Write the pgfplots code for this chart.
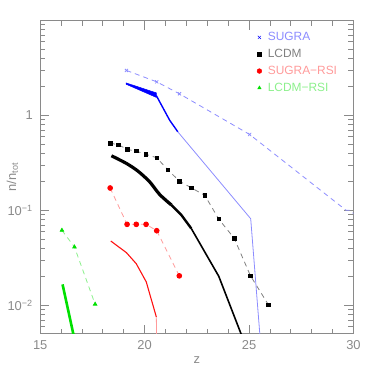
\documentclass[border=0pt]{standalone}
\usepackage{fontspec}
\setmainfont{Liberation Sans}
\usepackage{pgfplots}
\pgfplotsset{compat=1.18}
\definecolor{axgray}{HTML}{8A8A8A}
\definecolor{sugra}{HTML}{0000FF}
\definecolor{sugralt}{HTML}{8C8CFF}
\definecolor{lcdmlt}{HTML}{808080}
\definecolor{rsired}{HTML}{FF1010}
\definecolor{rsilt}{HTML}{FF9A9A}
\definecolor{lgreen}{HTML}{00E000}
\definecolor{lgreenlt}{HTML}{8CF08C}

\begin{document}
\begin{tikzpicture}
\useasboundingbox (-40.3bp,-40.3bp) rectangle (334bp,334.6bp);
\begin{axis}[
  at={(0,0)}, anchor=south west,
  width=314bp, height=314bp, scale only axis,
  xmin=15, xmax=30,
  ymode=log, ymin=0.005, ymax=10,
  xtick={15,20,25,30}, minor x tick num=4,
  ytick={0.01,0.1,1},
  yticklabels={10\textsuperscript{−2},10\textsuperscript{−1},1},
  minor ytick={0.006,0.007,0.008,0.009,0.02,0.03,0.04,0.05,0.06,0.07,0.08,0.09,
               0.2,0.3,0.4,0.5,0.6,0.7,0.8,0.9,2,3,4,5,6,7,8,9},
  tick align=inside,
  major tick length=9bp, minor tick length=5bp,
  axis line style={axgray, line width=0.8bp},
  every tick/.style={axgray, line width=0.8bp},
  tick label style={font=\fontsize{13}{13}\selectfont, text=axgray},
  /pgf/number format/assume math mode=true,
  xticklabel style={yshift=-3bp},
  yticklabel style={xshift=-4bp},
  xlabel={z}, ylabel={n/n\textsubscript{tot}},
  label style={font=\fontsize{13}{13}\selectfont, text=axgray},
  xlabel style={at={(axis description cs:0.5,-0.084)}, anchor=center},
  ylabel style={at={(axis description cs:-0.089,0.5)}, anchor=center},
  legend style={at={(axis description cs:0.682,0.98)}, anchor=north west,
    draw=none, fill=none,
    font=\fontsize{12}{12}\selectfont,
    nodes={inner xsep=6bp, inner ysep=3.5bp},
    /tikz/every even column/.append style={column sep=0pt}},
  legend cell align=left,
]
% legend markers
\addlegendimage{only marks, mark=x, mark size=2.2bp, sugra}
\addlegendentry{\textcolor{sugralt}{SUGRA}\strut}
\addlegendimage{only marks, mark=square*, mark size=1.8bp, black}
\addlegendentry{\textcolor{lcdmlt}{LCDM}\strut}
\addlegendimage{only marks, mark=*, mark size=2.4bp, red}
\addlegendentry{\textcolor{rsilt}{SUGRA−RSI}\strut}
\addlegendimage{only marks, mark=triangle*, mark size=2bp, lgreen}
\addlegendentry{\textcolor{lgreenlt}{LCDM−RSI}\strut}

% SUGRA dashed with marks
\addplot[forget plot, sugralt, dashed, dash pattern=on 5bp off 4bp, line width=0.8bp,
  mark=x, mark size=2.2bp, mark indices={1,2,3,4}, mark options={solid, sugralt}]
  coordinates {(19.13,2.98) (20.58,2.26) (21.67,1.69) (25.03,0.63) (29.65,0.1) (29.85,0.1) (30.4,0.075)};
% SUGRA band and solid line
\addplot[forget plot, fill=sugra, draw=sugra, line width=0.5bp]
  coordinates {(19.12,2.2) (20.56,1.73) (20.56,1.55) (19.12,2.13)} -- cycle;
\addplot[forget plot, sugra, line width=1.4bp]
  coordinates {(20.56,1.62) (21.2,0.89) (21.59,0.672)};
\addplot[forget plot, sugralt, line width=0.8bp]
  coordinates {(21.59,0.672) (25.08,0.0816) (25.55,0.004)};

% LCDM dashed with marks
\addplot[forget plot, lcdmlt, dashed, dash pattern=on 5bp off 4bp, line width=0.8bp,
  mark=square*, mark size=1.8bp, mark options={solid, black}]
  coordinates {(18.35,0.511) (18.75,0.49) (19.18,0.438) (19.6,0.421) (20.07,0.389)
    (20.58,0.358) (21.12,0.266) (21.67,0.203) (22.25,0.172) (22.88,0.144)
    (23.55,0.081) (24.29,0.0507) (25.07,0.0204) (25.93,0.0101)};
% LCDM solid
\addplot[forget plot, black, line width=3.2bp, smooth]
  coordinates {(18.41,0.376) (19.13,0.312) (19.68,0.259) (20.24,0.2) (20.72,0.147) (21.28,0.114)};
\addplot[forget plot, black, line width=2.4bp]
  coordinates {(21.28,0.114) (21.76,0.0893) (22.23,0.0646)};
\addplot[forget plot, black, line width=1.6bp]
  coordinates {(22.23,0.0646) (23.55,0.0202) (24.75,0.0042)};

% SUGRA-RSI dashed with marks
\addplot[forget plot, rsilt, dashed, dash pattern=on 5bp off 4bp, line width=0.8bp,
  mark=*, mark size=2.4bp, mark options={solid, red}]
  coordinates {(18.35,0.172) (19.16,0.0712) (19.6,0.0712) (20.07,0.0712) (20.58,0.061) (21.66,0.0204)};
% SUGRA-RSI solid
\addplot[forget plot, rsired, line width=1.1bp]
  coordinates {(18.38,0.0475) (19.13,0.0358) (19.6,0.0274) (20.08,0.0176) (20.56,0.00753)};
\addplot[forget plot, rsilt, line width=0.8bp]
  coordinates {(20.56,0.00753) (20.58,0.004)};

% LCDM-RSI dashed with marks
\addplot[forget plot, lgreenlt, dashed, dash pattern=on 5bp off 4bp, line width=0.8bp,
  mark=triangle*, mark size=2bp, mark options={solid, lgreen}]
  coordinates {(16.04,0.0616) (16.64,0.0411) (17.63,0.01025)};
% LCDM-RSI solid
\addplot[forget plot, lgreen, line width=2.6bp]
  coordinates {(16.07,0.0166) (16.63,0.0045)};
\end{axis}
\end{tikzpicture}
\end{document}
